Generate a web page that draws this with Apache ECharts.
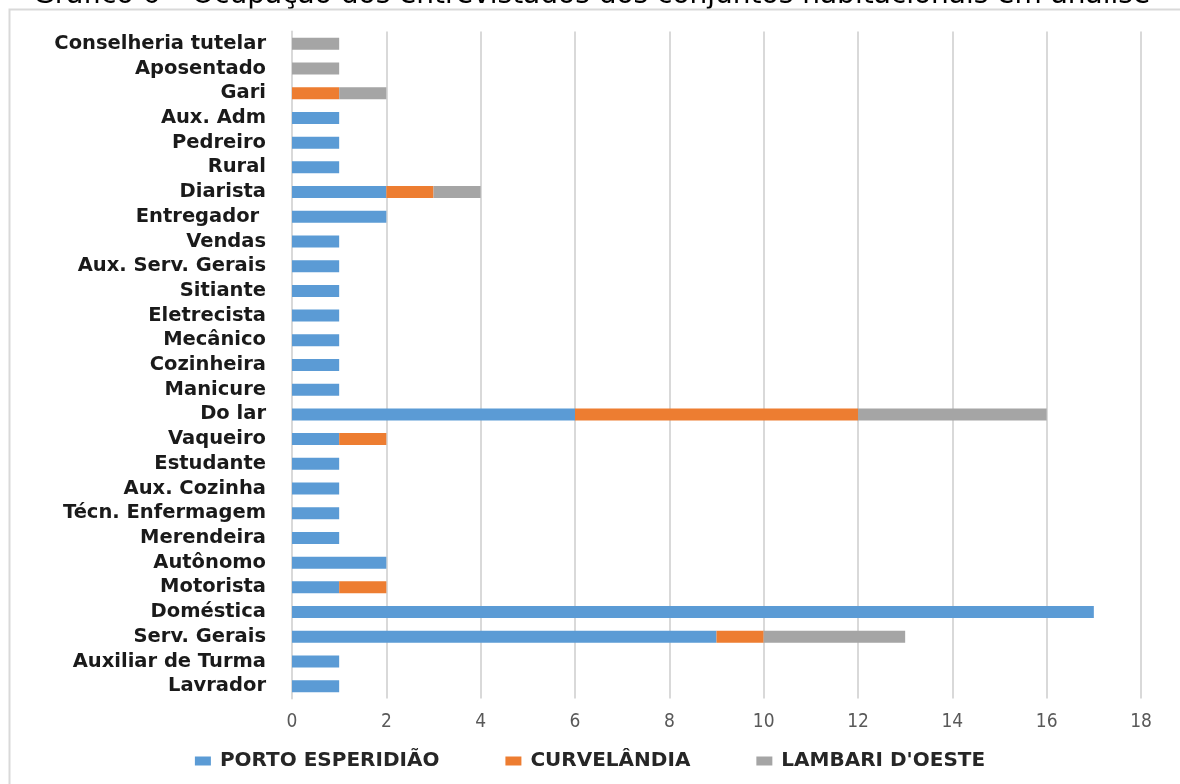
<!DOCTYPE html>
<html>
<head>
<meta charset="utf-8">
<script src="https://cdn.jsdelivr.net/npm/echarts@6/dist/echarts.min.js"></script>
<style>
  html, body { margin: 0; padding: 0; background: #fff; }
  #chart { width: 1180px; height: 784px; }
</style>
</head>
<body>
<div id="chart"></div>
<script>
// Occupations, listed bottom to top as the category axis draws them
const categories = [
  'Lavrador', 'Auxiliar de Turma', 'Serv. Gerais', 'Doméstica', 'Motorista',
  'Autônomo', 'Merendeira', 'Técn. Enfermagem', 'Aux. Cozinha', 'Estudante',
  'Vaqueiro', 'Do lar', 'Manicure', 'Cozinheira', 'Mecânico', 'Eletrecista',
  'Sitiante', 'Aux. Serv. Gerais', 'Vendas', 'Entregador ', 'Diarista', 'Rural',
  'Pedreiro', 'Aux. Adm', 'Gari', 'Aposentado', 'Conselheria tutelar'
];

const seriesNames = ['PORTO ESPERIDIÃO', 'CURVELÂNDIA', "LAMBARI D'OESTE"];

const portoEsperidiao = [1, 1, 9, 17, 1, 2, 1, 1, 1, 1, 1, 6, 1, 1, 1, 1, 1, 1, 1, 2, 2, 1, 1, 1, null, null, null];
const curvelandia     = [null, null, 1, null, 1, null, null, null, null, null, 1, 6, null, null, null, null, null, null, null, null, 1, null, null, null, 1, null, null];
const lambariDoeste   = [null, null, 3, null, null, null, null, null, null, null, null, 4, null, null, null, null, null, null, null, null, 1, null, null, null, 1, 1, 1];

const xTicks = { min: 0, max: 18, interval: 2 };

const colors = ['#5B9BD5', '#ED7D31', '#A5A5A5'];
const seriesData = [portoEsperidiao, curvelandia, lambariDoeste];

const chart = echarts.init(document.getElementById('chart'), null, { renderer: 'canvas' });

chart.setOption({
  animation: false,
  backgroundColor: '#ffffff',
  color: colors,
  graphic: [
    {
      // caption above the frame
      type: 'text',
      x: 33,
      y: 9.5,
      style: {
        text: 'Gráfico 6 – Ocupação dos entrevistados dos conjuntos habitacionais em análise',
        fontFamily: 'DejaVu Sans',
        fontSize: 28,
        verticalAlign: 'bottom',
        fill: '#000'
      },
      silent: true
    },
    {
      // chart frame
      type: 'rect',
      shape: { x: 9.5, y: 9.5, width: 1200, height: 800 },
      style: { fill: '#fff', stroke: '#D9D9D9', lineWidth: 2 },
      silent: true
    }
  ],
  grid: { left: 292, right: 39, top: 31.5, bottom: 85.5, containLabel: false },
  legend: {
    data: seriesNames,
    bottom: 8,
    left: 'center',
    icon: 'rect',
    itemWidth: 16,
    itemHeight: 9,
    itemGap: 66,
    textStyle: {
      fontFamily: 'DejaVu Sans',
      fontWeight: 'bold',
      fontSize: 20,
      color: '#262626',
      padding: [0, 0, 0, 4]
    }
  },
  xAxis: {
    type: 'value',
    min: xTicks.min,
    max: xTicks.max,
    interval: xTicks.interval,
    axisLine: { show: false },
    axisTick: { show: false },
    axisLabel: {
      margin: 14,
      fontFamily: 'Liberation Sans Narrow, DejaVu Sans Condensed',
      fontSize: 19,
      color: '#595959'
    },
    splitLine: { show: true, lineStyle: { color: '#D9D9D9', width: 2 } }
  },
  yAxis: {
    type: 'category',
    data: categories,
    axisLine: { show: true, lineStyle: { color: '#D9D9D9', width: 2 } },
    axisTick: { show: false },
    axisLabel: {
      interval: 0,
      margin: 26,
      fontFamily: 'DejaVu Sans',
      fontWeight: 'bold',
      fontSize: 19.5,
      color: '#1a1a1a'
    }
  },
  series: seriesNames.map((name, i) => ({
    name,
    type: 'bar',
    stack: 'total',
    barWidth: 12,
    data: seriesData[i],
    itemStyle: { color: colors[i] }
  }))
});
</script>
</body>
</html>
